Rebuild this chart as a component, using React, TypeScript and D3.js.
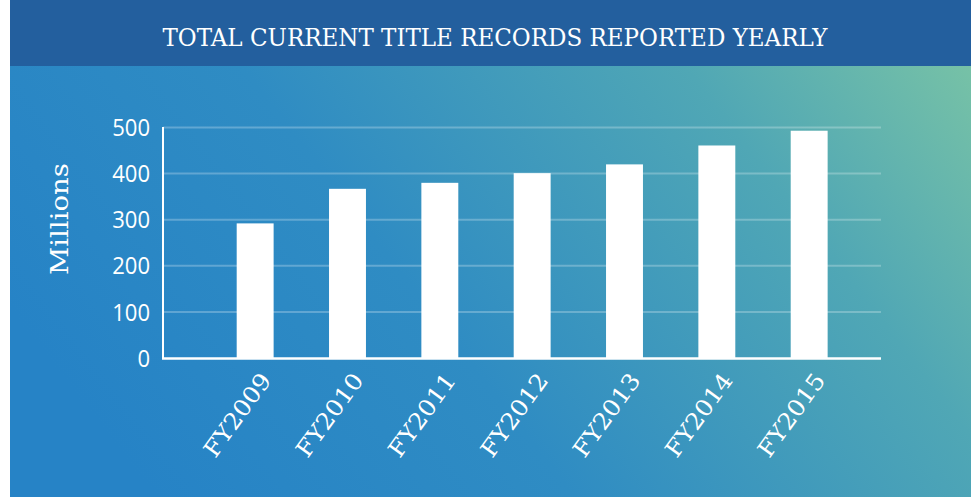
import React, { useEffect, useRef } from 'react';
import * as d3 from 'd3';

const years = ['FY2009', 'FY2010', 'FY2011', 'FY2012', 'FY2013', 'FY2014', 'FY2015'];
const records = [292, 367, 380, 401, 420, 461, 493];
const yTicks = [0, 100, 200, 300, 400, 500];
const title = 'TOTAL CURRENT TITLE RECORDS REPORTED YEARLY';
const yLabel = 'Millions';

const W = 971;
const H = 497;

export default function App() {
  const svgRef = useRef<SVGSVGElement>(null);

  useEffect(() => {
    const svg = d3.select(svgRef.current);
    svg.selectAll('*').remove();

    const defs = svg.append('defs');
    const grad = defs
      .append('linearGradient')
      .attr('id', 'bg')
      .attr('gradientUnits', 'userSpaceOnUse')
      .attr('x1', 250)
      .attr('y1', 620)
      .attr('x2', 1000)
      .attr('y2', 40);
    grad.append('stop').attr('offset', 0).attr('stop-color', '#2683c6');
    grad.append('stop').attr('offset', 0.35).attr('stop-color', '#2f8cc3');
    grad.append('stop').attr('offset', 0.72).attr('stop-color', '#50a7b5');
    grad.append('stop').attr('offset', 1).attr('stop-color', '#7dc6a4');

    // backgrounds
    svg.append('rect').attr('x', 10).attr('y', 66).attr('width', W - 10).attr('height', H - 66).attr('fill', 'url(#bg)');
    svg.append('rect').attr('x', 10).attr('y', 0).attr('width', W - 10).attr('height', 66).attr('fill', '#235f9e');

    svg
      .append('text')
      .attr('x', 495)
      .attr('y', 45.5)
      .attr('text-anchor', 'middle')
      .attr('textLength', 665)
      .attr('lengthAdjust', 'spacingAndGlyphs')
      .style('font-family', '"DejaVu Serif", serif')
      .style('font-size', '25px')
      .attr('fill', '#fff')
      .text(title);

    const x = d3
      .scaleBand()
      .domain(years)
      .range([163, 881])
      .paddingInner(0.6)
      .paddingOuter(0.688)
      .align(0.58);
    const y = d3.scaleLinear().domain([0, 500]).range([358, 127.5]);

    // grid
    svg
      .append('g')
      .selectAll('line')
      .data(yTicks.filter((t) => t > 0))
      .join('line')
      .attr('x1', 163)
      .attr('x2', 881)
      .attr('y1', (d) => y(d))
      .attr('y2', (d) => y(d))
      .attr('stroke', '#fff')
      .attr('stroke-opacity', 0.25)
      .attr('stroke-width', 2);

    // bars
    svg
      .append('g')
      .selectAll('rect')
      .data(records)
      .join('rect')
      .attr('x', (d, i) => x(years[i]))
      .attr('y', (d) => y(d))
      .attr('width', x.bandwidth())
      .attr('height', (d) => y(0) - y(d))
      .attr('fill', '#fff');

    // axis lines
    svg.append('line').attr('x1', 163).attr('x2', 163).attr('y1', 127).attr('y2', 359).attr('stroke', '#fff').attr('stroke-width', 2);
    svg.append('line').attr('x1', 162).attr('x2', 881).attr('y1', 358.5).attr('y2', 358.5).attr('stroke', '#fff').attr('stroke-width', 2.5);

    // y tick labels
    svg
      .append('g')
      .selectAll('text')
      .data(yTicks)
      .join('text')
      .attr('x', 150)
      .attr('y', (d) => y(d))
      .attr('dy', '0.36em')
      .attr('text-anchor', 'end')
      .attr('textLength', (d) => String(d).length * 12.6)
      .attr('lengthAdjust', 'spacingAndGlyphs')
      .style('font-family', '"Open Sans", sans-serif')
      .style('font-size', '24px')
      .attr('fill', '#fff')
      .text((d) => d);

    // x tick labels
    svg
      .append('g')
      .selectAll('text')
      .data(years)
      .join('text')
      .attr('transform', (d) => `translate(${x(d) + x.bandwidth() / 2 + 4},${371}) rotate(-54)`)
      .attr('text-anchor', 'end')
      .attr('dy', '0.7em')
      .attr('textLength', 97)
      .attr('lengthAdjust', 'spacingAndGlyphs')
      .style('font-family', '"DejaVu Serif", serif')
      .style('font-size', '23px')
      .attr('fill', '#fff')
      .text((d) => d);

    // y label
    svg
      .append('text')
      .attr('transform', `translate(68,219) rotate(-90)`)
      .attr('text-anchor', 'middle')
      .attr('textLength', 112)
      .attr('lengthAdjust', 'spacingAndGlyphs')
      .style('font-family', '"DejaVu Serif", serif')
      .style('font-size', '25px')
      .attr('fill', '#fff')
      .text(yLabel);
  }, []);

  return (
    <div style={{ position: 'absolute', left: 0, top: 0 }}>
      <svg ref={svgRef} width={W} height={H} style={{ display: 'block', background: '#fff' }} />
    </div>
  );
}
